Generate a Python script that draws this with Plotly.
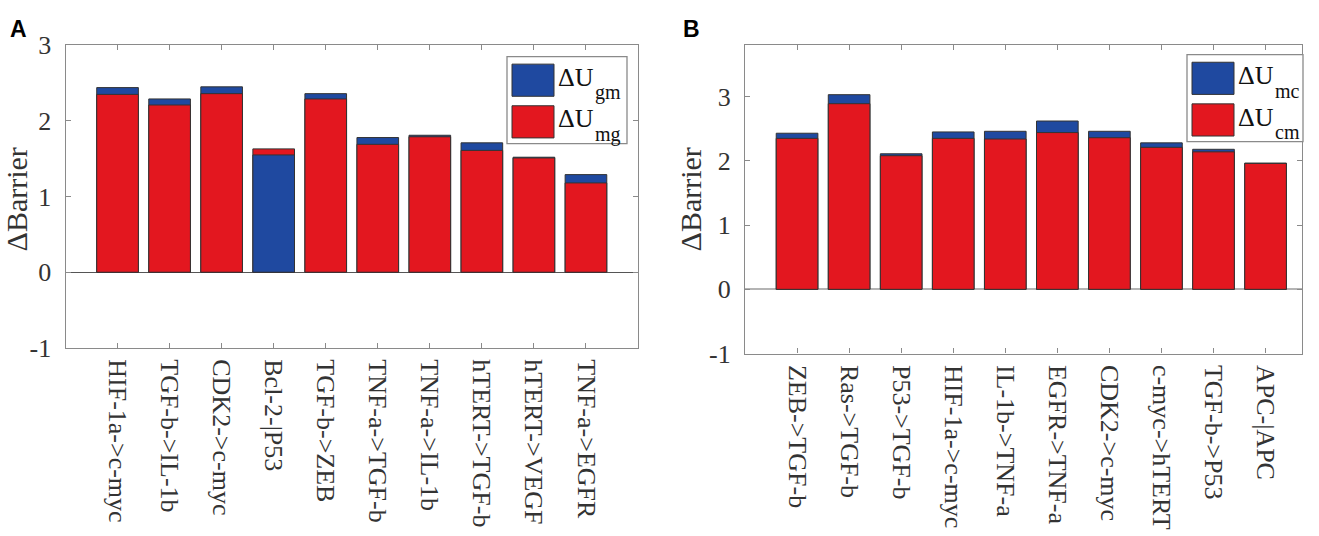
import plotly.graph_objects as go

W, H = 1319, 536

# Panel A: edges of the network (mesenchymal <-> gastric)
labels_a = ["HIF-1a->c-myc", "TGF-b->IL-1b", "CDK2->c-myc", "Bcl-2-|P53", "TGF-b->ZEB",
            "TNF-a->TGF-b", "TNF-a->IL-1b", "hTERT->TGF-b", "hTERT->VEGF", "TNF-a->EGFR"]
du_gm = [2.44, 2.29, 2.45, 1.55, 2.36, 1.78, 1.81, 1.71, 1.52, 1.29]
du_mg = [2.35, 2.21, 2.36, 1.63, 2.29, 1.69, 1.79, 1.61, 1.51, 1.18]

# Panel B
labels_b = ["ZEB->TGF-b", "Ras->TGF-b", "P53->TGF-b", "HIF-1a->c-myc", "IL-1b->TNF-a",
            "EGFR->TNF-a", "CDK2->c-myc", "c-myc->hTERT", "TGF-b->P53", "APC-|APC"]
du_mc = [2.43, 3.03, 2.11, 2.45, 2.46, 2.62, 2.46, 2.28, 2.18, 1.965]
du_cm = [2.35, 2.89, 2.08, 2.35, 2.34, 2.44, 2.36, 2.21, 2.14, 1.96]

y_ticks_a = [-1, 0, 1, 2, 3]
y_ticks_b = [-1, 0, 1, 2, 3]

BLUE = "#1f49a0"
RED = "#e3171f"
EDGE = "#333333"
FRAME = "#8a8a8a"
TXT = "#333333"
SERIF = "Liberation Serif"


def px(x, y):
    # screen pixel -> paper coords
    return x / W, 1 - y / H


def add_bars(fig, blue_vals, red_vals, xa, ya):
    # the bigger value is drawn behind, the smaller one in front
    x = list(range(1, len(blue_vals) + 1))
    back = [max(b, r) for b, r in zip(blue_vals, red_vals)]
    front = [min(b, r) for b, r in zip(blue_vals, red_vals)]
    back_col = [BLUE if b >= r else RED for b, r in zip(blue_vals, red_vals)]
    front_col = [RED if b >= r else BLUE for b, r in zip(blue_vals, red_vals)]
    for vals, cols in [(back, back_col), (front, front_col)]:
        fig.add_trace(go.Bar(x=x, y=vals, width=0.8, xaxis=xa, yaxis=ya,
                             marker=dict(color=cols, line=dict(color=EDGE, width=1)),
                             showlegend=False))


def axis_style():
    return dict(showline=True, linecolor=FRAME, linewidth=1.3, mirror="ticks",
                ticks="inside", ticklen=5, tickcolor=FRAME, showgrid=False,
                tickfont=dict(family=SERIF, size=26, color=TXT))


def text(fig, x, y, s, size, xanchor="left", color="#111111", family=SERIF, angle=0):
    fig.add_annotation(x=px(x, 0)[0], y=px(0, y)[1], xref="paper", yref="paper",
                       text=s, showarrow=False, xanchor=xanchor, yanchor="middle",
                       textangle=angle, font=dict(family=family, size=size, color=color))


def add_legend(fig, box, sub_blue, sub_red):
    x0, y0, x1, y1 = box
    fig.add_shape(type="rect", xref="paper", yref="paper",
                  x0=px(x0, 0)[0], x1=px(x1, 0)[0], y0=px(0, y1)[1], y1=px(0, y0)[1],
                  line=dict(color=FRAME, width=1.3), fillcolor="white")
    rows = [(BLUE, sub_blue, y0 + 8), (RED, sub_red, y0 + 52)]
    for col, sub, top in rows:
        fig.add_shape(type="rect", xref="paper", yref="paper",
                      x0=px(x0 + 5, 0)[0], x1=px(x0 + 47, 0)[0],
                      y0=px(0, top + 34)[1], y1=px(0, top)[1],
                      line=dict(color=EDGE, width=1), fillcolor=col)
        text(fig, x0 + 49, top + 14, "ΔU", 26)
        text(fig, x0 + 86, top + 30, sub, 20)


fig = go.Figure()
add_bars(fig, du_gm, du_mg, "x", "y")
add_bars(fig, du_mc, du_cm, "x2", "y2")


def dom_x(a, b):
    return [px(a, 0)[0], px(b, 0)[0]]


def dom_y(top, bottom):
    return [px(0, bottom)[1], px(0, top)[1]]


ticks = list(range(1, 11))
xa = axis_style()
xa.update(domain=dom_x(65.5, 638), range=[0, 11], tickvals=ticks, ticktext=labels_a,
          tickangle=90, anchor="y", ticklabelstandoff=5)
ya = axis_style()
ya.update(domain=dom_y(33, 353), range=[-1, 3], anchor="x",
          tickvals=y_ticks_a, ticktext=[str(v) for v in y_ticks_a],
          zeroline=True, zerolinecolor="#555555", zerolinewidth=1, ticklabelstandoff=8)
xb = axis_style()
xb.update(domain=dom_x(745, 1302), range=[0, 10.7], tickvals=ticks, ticktext=labels_b,
          tickangle=90, anchor="y2", ticklabelstandoff=5)
yb = axis_style()
yb.update(domain=dom_y(33, 359), range=[-1, 3.8], anchor="x2",
          tickvals=y_ticks_b, ticktext=[str(v) for v in y_ticks_b],
          zeroline=True, zerolinecolor="#b4b4b4", zerolinewidth=2, ticklabelstandoff=8)

fig.update_layout(width=W, height=H, autosize=False, margin=dict(l=0, r=0, t=0, b=0),
                  paper_bgcolor="white", plot_bgcolor="white", barmode="overlay",
                  xaxis=xa, yaxis=ya, xaxis2=xb, yaxis2=yb)

# legends drawn by hand (big colour patches like the original)
add_legend(fig, (507, 45, 627, 137), "gm", "mg")
add_legend(fig, (1187, 43, 1303, 135), "mc", "cm")

# y titles and panel letters
text(fig, 16, 196, "ΔBarrier", 30, xanchor="center", color=TXT, angle=-90)
text(fig, 690, 196, "ΔBarrier", 30, xanchor="center", color=TXT, angle=-90)
text(fig, 18, 16, "<b>A</b>", 23, xanchor="center", color="black", family="Liberation Sans")
text(fig, 691, 16, "<b>B</b>", 23, xanchor="center", color="black", family="Liberation Sans")

# drop the default 8px page margin so the figure sits at the window corner
fig.write_html("out.html", config={"displayModeBar": False},
               post_script="document.body.style.margin = '0px';")
